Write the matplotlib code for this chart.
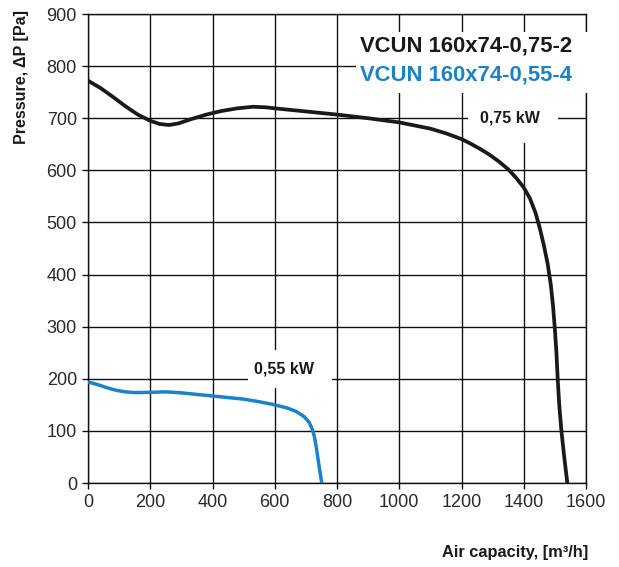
import matplotlib
matplotlib.use("Agg")
import matplotlib.pyplot as plt
from matplotlib.patches import Rectangle

plt.rcParams["font.family"] = ["Liberation Sans", "DejaVu Sans"]

# fan curves
flow_075 = [0, 40, 80, 120, 160, 200, 230, 260, 290, 330, 380, 430, 480, 530, 570,
            600, 700, 800, 900, 1000, 1100, 1150, 1200, 1230, 1260, 1290, 1320, 1350,
            1375, 1400, 1420, 1438, 1452, 1465, 1477, 1487, 1494, 1500, 1505, 1509,
            1514, 1521, 1530, 1540]
pres_075 = [772, 758, 741, 723, 707, 695, 689, 687, 690, 698, 707, 714, 719, 722, 721,
            719, 713, 707, 700, 692, 680, 671, 660, 651, 641, 630, 617, 602,
            586, 567, 546, 518, 488, 455, 420, 380, 340, 295, 250, 200,
            150, 100, 50, 0]

flow_055 = [0, 30, 60, 90, 120, 150, 200, 250, 300, 400, 500, 550, 600, 640, 670, 695,
            710, 720, 727, 733, 738, 743, 747, 751]
pres_055 = [194, 189, 183, 178, 175, 173.5, 174, 175, 173, 167, 161, 156, 150, 144, 137, 127,
            117, 104, 90, 70, 50, 30, 15, 0]

models = ["VCUN 160x74-0,75-2", "VCUN 160x74-0,55-4"]
colors = ["#1a1a1a", "#1a82c8"]

x_ticks = list(range(0, 1601, 200))
y_ticks = list(range(0, 901, 100))

fig = plt.figure(figsize=(6.19, 5.67), dpi=100)
ax = fig.add_axes([0.1422, 0.1481, 0.8045, 0.8272])

ax.set_xlim(0, 1600)
ax.set_ylim(0, 900)
ax.set_xticks(x_ticks)
ax.set_yticks(y_ticks)
ax.grid(True, color="#111111", linewidth=1.0, zorder=1)
for s in ax.spines.values():
    s.set_linewidth(1.0)
    s.set_color("#111111")
    s.set_zorder(1)
ax.tick_params(direction="out", length=4, width=1.0, color="#111111",
               labelsize=13, labelcolor="#2a2a2a", pad=4)
ax.set_axisbelow(True)

# white patches that mask the grid behind the labels
ax.add_patch(Rectangle((860, 748), 800, 118, facecolor="white", edgecolor="none",
                       zorder=2, clip_on=False))
ax.add_patch(Rectangle((1222, 652), 288, 96, facecolor="white", edgecolor="none", zorder=2))
ax.add_patch(Rectangle((515, 182), 270, 74, facecolor="white", edgecolor="none", zorder=2))

ax.plot(flow_075, pres_075, color=colors[0], linewidth=2.7, zorder=4,
        solid_capstyle="butt", solid_joinstyle="round")
ax.plot(flow_055, pres_055, color=colors[1], linewidth=2.5, zorder=4,
        solid_capstyle="butt", solid_joinstyle="round")

ax.text(1357, 700, "0,75 kW", ha="center", va="center", fontsize=11.5,
        fontweight="bold", color="#1a1a1a", zorder=5)
ax.text(631, 218, "0,55 kW", ha="center", va="center", fontsize=11.5,
        fontweight="bold", color="#1a1a1a", zorder=5)

fig.text(0.924, 0.918, models[0], ha="right", va="center", fontsize=15.8,
         fontweight="bold", color=colors[0])
fig.text(0.924, 0.868, models[1], ha="right", va="center", fontsize=15.8,
         fontweight="bold", color=colors[1])

fig.text(0.035, 0.864, "Pressure, \u0394P [Pa]", rotation=90, ha="center", va="center",
         fontsize=11.6, fontweight="bold", color="#1a1a1a")
fig.text(0.95, 0.025, "Air capacity, [m\u00b3/h]", ha="right", va="center",
         fontsize=11.8, fontweight="bold", color="#1a1a1a")

plt.savefig("out.png", dpi=100)
